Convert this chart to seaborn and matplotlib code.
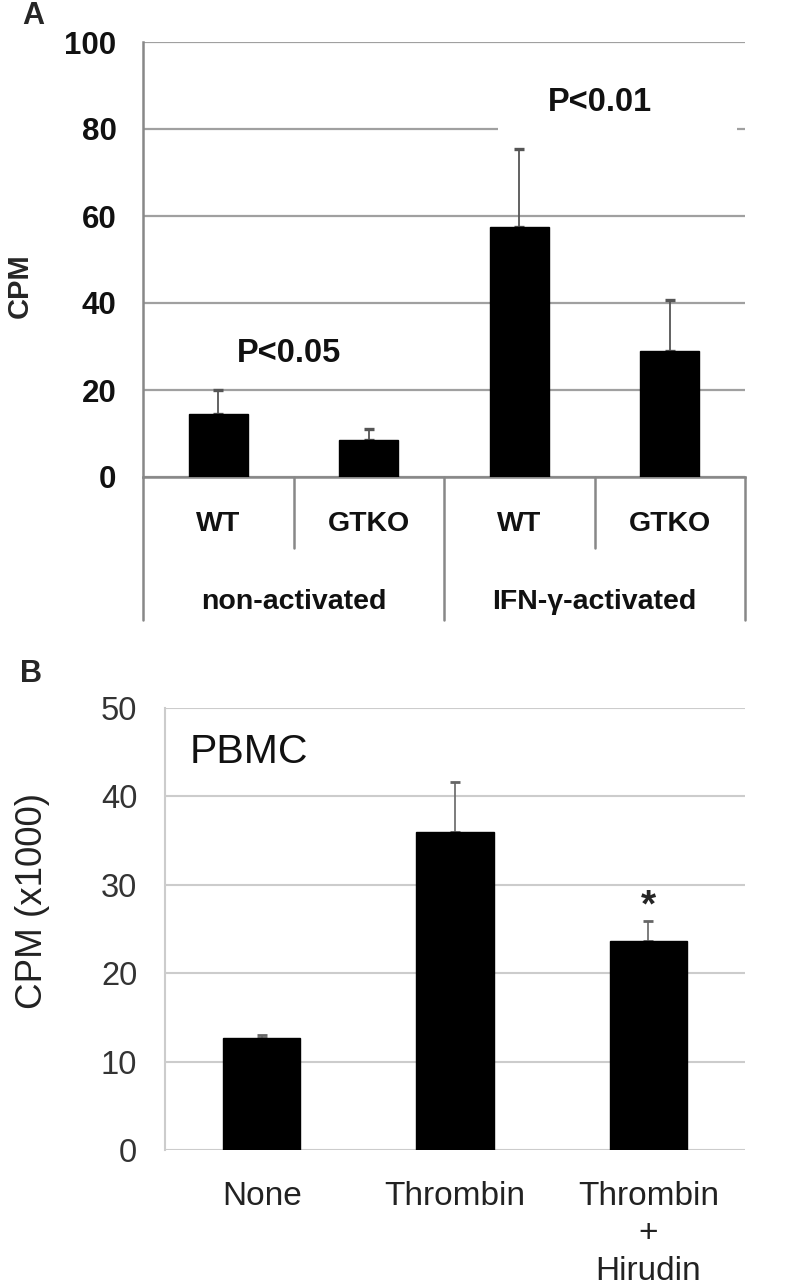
import matplotlib
matplotlib.use('Agg')
import matplotlib.pyplot as plt
from matplotlib.patches import Rectangle
import seaborn as sns
import pandas as pd

# panel A data
groups_a = ['non-activated', 'non-activated', 'IFN-γ-activated', 'IFN-γ-activated']
genotypes_a = ['WT', 'GTKO', 'WT', 'GTKO']
cpm_a = [14.4, 8.6, 57.4, 28.9]
err_a = [5.7, 2.4, 18.0, 11.8]

# panel B data
conds_b = ['None', 'Thrombin', 'Thrombin\n+\nHirudin']
cpm_b = [12.7, 36.0, 23.6]
err_b = [0.3, 5.6, 2.3]

sns.set_style('white')
plt.rcParams['font.family'] = ['Liberation Sans', 'DejaVu Sans']

fig = plt.figure(figsize=(7.87, 12.86), dpi=100)
W, H = 787, 1286


def px_axes(left, top, right, bottom):
    return fig.add_axes([left / W, 1 - bottom / H, (right - left) / W, (bottom - top) / H])


# ---------------- Panel A ----------------
ax = px_axes(143, 42, 745, 477)
df_a = pd.DataFrame({'key': [g + '|' + t for g, t in zip(groups_a, genotypes_a)],
                     'cpm': cpm_a})
sns.barplot(data=df_a, x='key', y='cpm', color='black', saturation=1, width=0.39,
            errorbar=None, edgecolor='black', ax=ax, zorder=3)
ax.errorbar(range(len(cpm_a)), cpm_a, yerr=[[0] * len(err_a), err_a], fmt='none',
            ecolor='#555555', elinewidth=1.3, capsize=3.6, capthick=2.4, zorder=2)
ax.set_xlim(-0.5, len(cpm_a) - 0.5)
ax.set_ylim(0, 100)
ax.set_yticks(range(0, 101, 20))
ax.set_xticks([])
ax.set_xlabel('')
ax.yaxis.grid(True, color='#a0a0a0', linewidth=1.6)
ax.set_axisbelow(True)
for s in ['top', 'right']:
    ax.spines[s].set_visible(False)
for s in ['left', 'bottom']:
    ax.spines[s].set_color('#888888')
    ax.spines[s].set_linewidth(1.8)
ax.tick_params(axis='y', length=6, width=1.6, color='#888888', pad=13, labelsize=22.5,
               labelcolor='#111111')
for lab in ax.get_yticklabels():
    lab.set_fontweight('bold')
ax.set_ylabel('CPM', fontsize=21, fontweight='bold')
ax.yaxis.set_label_coords(-0.182, 0.44)

# two-level category axis
tr = ax.get_xaxis_transform()
n = len(genotypes_a)
for i in range(n + 1):
    x = i - 0.5
    long_line = (i == 0) or (i == n) or (groups_a[i - 1] != groups_a[i])
    ax.plot([x, x], [0, -0.329 if long_line else -0.163], transform=tr,
            color='#888888', lw=1.8, clip_on=False)
for i, g in enumerate(genotypes_a):
    ax.text(i, -0.108, g, transform=tr, ha='center', va='center',
            fontsize=20.5, fontweight='bold', color='#111111')
for g in dict.fromkeys(groups_a):
    idx = [i for i, v in enumerate(groups_a) if v == g]
    ax.text(sum(idx) / len(idx), -0.287, g, transform=tr, ha='center', va='center',
            fontsize=20.5, fontweight='bold', color='#111111')

# white box hiding the gridline behind P<0.01
ax.add_patch(Rectangle((1.859, 78.5), 1.588, 3.0, facecolor='white',
                       edgecolor='none', zorder=1))
ax.text(2.537, 86.0, 'P<0.01', ha='center', va='center', fontsize=23.5,
        fontweight='bold', zorder=4, color='#111111')
ax.text(0.47, 28.3, 'P<0.05', ha='center', va='center', fontsize=23.5,
        fontweight='bold', zorder=4, color='#111111')

# ---------------- Panel B ----------------
bx = px_axes(165, 708, 745, 1150)
df_b = pd.DataFrame({'cond': conds_b, 'cpm': cpm_b})
sns.barplot(data=df_b, x='cond', y='cpm', color='black', saturation=1, width=0.40,
            errorbar=None, edgecolor='black', ax=bx, zorder=3)
bx.errorbar(range(len(cpm_b)), cpm_b, yerr=[[0] * len(err_b), err_b], fmt='none',
            ecolor='#666666', elinewidth=1.2, capsize=3.6, capthick=2.0, zorder=2)
bx.set_xlim(-0.5, len(cpm_b) - 0.5)
bx.set_ylim(0, 50)
bx.set_yticks(range(0, 51, 10))
bx.set_xlabel('')
bx.yaxis.grid(True, color='#cccccc', linewidth=1.5)
bx.set_axisbelow(True)
for s in ['top', 'right', 'bottom']:
    bx.spines[s].set_visible(False)
bx.spines['left'].set_color('#cccccc')
bx.spines['left'].set_linewidth(1.5)
bx.tick_params(axis='y', length=7, width=1.5, color='#cccccc', pad=13,
               labelsize=23.5, labelcolor='#333333')
bx.tick_params(axis='x', length=0, pad=22, labelsize=24, labelcolor='#222222')
for lab in bx.get_xticklabels():
    lab.set_linespacing(1.27)
bx.set_ylabel('CPM (x1000)', fontsize=26.5, color='#222222')
bx.yaxis.set_label_coords(-0.198, 0.563)
bx.text(0.043, 0.90, 'PBMC', transform=bx.transAxes, ha='left', va='center',
        fontsize=29.5, color='#111111')
bx.text(2, cpm_b[2] + err_b[2] + 1.6, '*', ha='center', va='center',
        fontsize=28, fontweight='bold')

fig.text(22 / W, 1 - 16 / H, 'A', fontsize=22, fontweight='bold', ha='left', va='center')
fig.text(20 / W, 1 - 674 / H, 'B', fontsize=22, fontweight='bold', ha='left', va='center')

fig.savefig('out.png', dpi=100)
